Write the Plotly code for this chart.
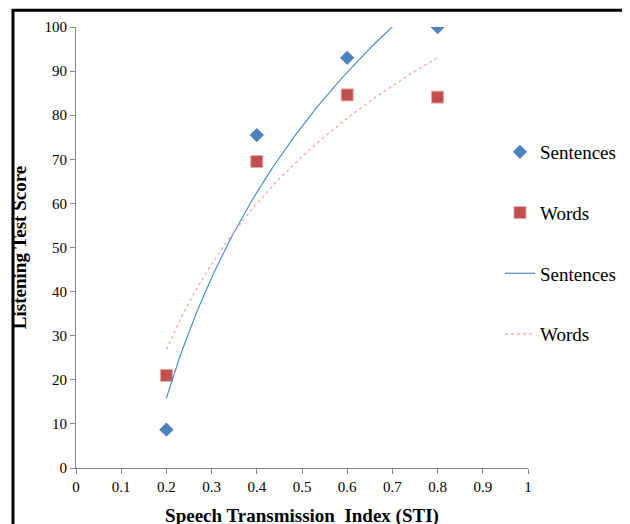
import numpy as np
import plotly.graph_objects as go

# STI values and listening test scores
sti = [0.2, 0.4, 0.6, 0.8]
sentences = [8.7, 75.5, 93.0, 100.0]
words = [21.0, 69.5, 84.6, 84.1]

x_ticks = [0, 0.1, 0.2, 0.3, 0.4, 0.5, 0.6, 0.7, 0.8, 0.9, 1]
x_tick_text = ["0", "0.1", "0.2", "0.3", "0.4", "0.5", "0.6", "0.7", "0.8", "0.9", "1"]
y_ticks = [0, 10, 20, 30, 40, 50, 60, 70, 80, 90, 100]

BLUE = "#4F81BD"
RED = "#C0504D"
FONT = "Liberation Serif"
AXIS = "#868686"


def log_trend(x, y):
    # Excel-style logarithmic trendline over the data range
    a, b = np.polyfit(np.log(x), y, 1)
    xs = np.linspace(min(x), max(x), 120)
    return xs, a * np.log(xs) + b


fig = go.Figure()
fig.add_trace(go.Scatter(x=sti, y=sentences, mode="markers", name="Sentences", legendgroup="a",
                         marker={"symbol": "diamond", "size": 11, "color": BLUE}))
fig.add_trace(go.Scatter(x=sti, y=words, mode="markers", name="Words", legendgroup="b",
                         marker={"symbol": "square", "size": 12, "color": RED, "line": {"color": "#E6A9A7", "width": 1}}))
sx, sy = log_trend(sti, sentences)
fig.add_trace(go.Scatter(x=sx, y=sy, mode="lines", name="Sentences", legendgroup="c",
                         line={"color": "#4A90D9", "width": 1.2}))
wx, wy = log_trend(sti, words)
fig.add_trace(go.Scatter(x=wx, y=wy, mode="lines", name="Words", legendgroup="d",
                         line={"color": "#FFA0A0", "width": 1.2, "dash": "dot"}))

# outer chart frame (bottom edge runs past the visible page)
fig.add_shape(type="rect", xref="paper", yref="paper", x0=-0.1394, x1=1.2146, y0=-0.2, y1=1.038,
              line={"color": "black", "width": 3}, layer="above")

fig.update_layout(
    width=630, height=524,
    paper_bgcolor="white", plot_bgcolor="white",
    font={"family": FONT, "color": "black", "size": 15},
    margin={"l": 68, "r": 110, "t": 19, "b": 64},
    showlegend=True,
    legend={"x": 0.938, "y": 0.7596, "xanchor": "left", "yanchor": "top", "font": {"size": 19},
            "tracegroupgap": 33, "bgcolor": "rgba(0,0,0,0)"},
)
fig.update_xaxes(range=[0, 1], tickvals=x_ticks, ticktext=x_tick_text, showgrid=False, zeroline=False,
                 showline=True, linecolor=AXIS, linewidth=1, ticks="outside", tickcolor=AXIS, ticklen=5,
                 automargin=False,
                 title={"text": "<b>Speech Transmission  Index (STI)</b>", "font": {"size": 19}, "standoff": 14})
fig.update_yaxes(range=[0, 100], tickvals=y_ticks, showgrid=False, zeroline=False,
                 showline=True, linecolor=AXIS, linewidth=1, ticks="outside", tickcolor=AXIS, ticklen=5,
                 automargin=False,
                 title={"text": "<b>Listening Test Score</b>", "font": {"size": 19}, "standoff": 12})

fig.write_html("out.html")
